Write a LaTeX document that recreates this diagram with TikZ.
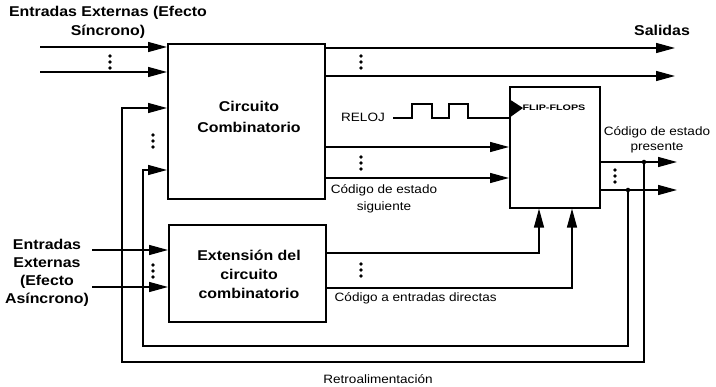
\documentclass[tikz,border=0pt]{standalone}
\usepackage{fontspec}
\setmainfont[FakeStretch=1.12]{Liberation Sans}
\usetikzlibrary{arrows.meta,calc}
\begin{document}
\begin{tikzpicture}[x=1pt,y=-1pt, line width=1.4pt,
  box/.style={draw, line width=1.6pt, anchor=north west, inner sep=0pt},
  arr/.style={-{Triangle[length=19pt,width=10pt]}},
  lbl/.style={font=\bfseries\fontsize{14.2}{19}\selectfont, align=center, inner sep=0pt},
  sm/.style={font=\fontsize{12.1}{17}\selectfont, align=center, inner sep=0pt},
  jn/.style={circle, fill, inner sep=0pt, minimum size=4.5pt},
  tri/.pic={\fill (0,-6) circle (1.9) (0,0) circle (1.9) (0,6) circle (1.9);}]
\useasboundingbox (0,0) rectangle (716,387);

% boxes
\node[box, minimum width=157pt, minimum height=155pt] (cc) at (167,43) {};
\node[box, minimum width=157pt, minimum height=97pt] (ext) at (168,224) {};
\node[box, minimum width=90pt, minimum height=121pt] (ff) at (509,86) {};

\node[lbl, font=\bfseries\fontsize{14.2}{21}\selectfont] (cct) at (249,117) {Circuito\\Combinatorio};
\node[lbl] (extt) at (249,274) {Extensión del\\circuito\\combinatorio};
\node[inner sep=0pt, font=\bfseries\fontsize{8}{9}\selectfont] (fft) at (554,108) {\scalebox{1.2}[1]{FLIP-FLOPS}};

% labels
\node[lbl] (insync) at (108,22) {Entradas Externas (Efecto\\Síncrono)};
\node[lbl, font=\bfseries\fontsize{14.2}{18}\selectfont] (inasync) at (47,273) {Entradas\\Externas\\(Efecto\\Asíncrono)};
\node[lbl] (sal) at (662,30) {Salidas};
\node[sm] (reloj) at (363,117) {RELOJ};
\node[sm] (csig) at (384,199) {Código de estado\\siguiente};
\node[sm, font=\fontsize{12.1}{15}\selectfont] (cpres) at (657,140) {Código de estado\\presente};
\node[sm, anchor=west] (cdir) at (334,298) {Código a entradas directas};
\node[sm] (retro) at (378,379) {Retroalimentación};

% synchronous inputs
\coordinate (i1) at (40,47);
\coordinate (i2) at (40,72);
\draw[arr] (i1) -- (i1 -| cc.west);
\draw[arr] (i2) -- (i2 -| cc.west);
\pic at (110,62) {tri};

% outputs
\coordinate (o1) at (675,48);
\coordinate (o2) at (675,76);
\draw[arr] (o1 -| cc.east) -- (o1);
\draw[arr] (o2 -| cc.east) -- (o2);
\pic at (361,62) {tri};

% clock
\coordinate (clk) at (393,118);
\draw[line width=1.1pt] (clk) -- ++(19,0) -- ++(0,-14) -- ++(20,0) -- ++(0,14) -- ++(17,0) -- ++(0,-14) -- ++(19,0) -- ++(0,14) -- (ff.west |- clk);
\fill (ff.west |- 0,99) -- (523,108) -- (ff.west |- clk) -- cycle;

% next state code
\coordinate (s1) at (400,147);
\coordinate (s2) at (400,178);
\draw[arr] (s1 -| cc.east) -- (s1 -| ff.west);
\draw[arr] (s2 -| cc.east) -- (s2 -| ff.west);
\pic at (361,163) {tri};

% extension outputs
\coordinate (e1) at (539,253);
\coordinate (e2) at (572,288);
\draw[arr] (ext.east |- e1) -| (e1 |- ff.south);
\draw[arr] (ext.east |- e2) -| (e2 |- ff.south);
\pic at (361,270) {tri};

% asynchronous inputs
\coordinate (a1) at (92,250);
\coordinate (a2) at (92,287);
\draw[arr] (a1) -- (a1 -| ext.west);
\draw[arr] (a2) -- (a2 -| ext.west);
\pic at (153,271) {tri};

% flip-flop outputs
\coordinate (p1) at (677,162);
\coordinate (p2) at (677,190);
\draw[arr] (p1 -| ff.east) -- (p1);
\draw[arr] (p2 -| ff.east) -- (p2);
\pic at (615,176) {tri};
\node[jn] (j1) at (644,162) {};
\node[jn] (j2) at (628,190) {};

% feedback
\coordinate (fb1) at (122,362);
\coordinate (fb2) at (143,346);
\coordinate (c1) at (150,108);
\coordinate (c2) at (150,170);
\draw[arr] (j1.center) |- (fb1) |- (c1 -| cc.west);
\draw[arr] (j2.center) |- (fb2) |- (c2 -| cc.west);
\pic at (153,141) {tri};
\end{tikzpicture}
\end{document}
